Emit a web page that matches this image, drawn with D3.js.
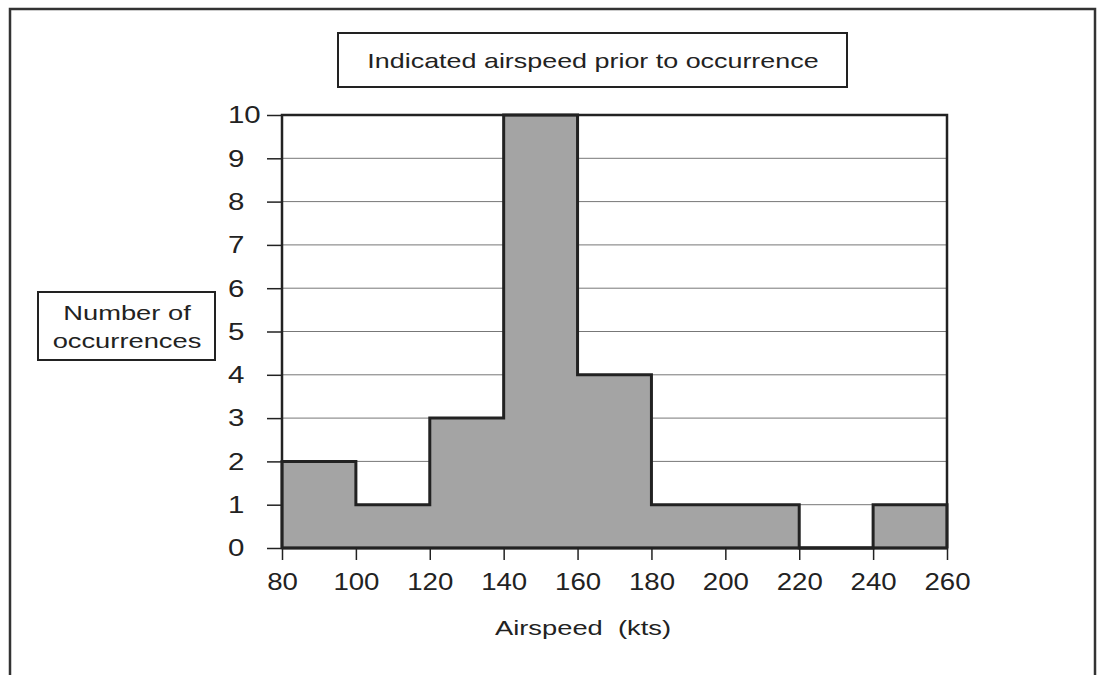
<!DOCTYPE html>
<html><head><meta charset="utf-8">
<script src="https://cdn.jsdelivr.net/npm/d3@7"></script>
<style>
html,body{margin:0;padding:0;background:#fff;}
svg text{font-family:"Liberation Sans",Arial,Helvetica,sans-serif;fill:#222;}
</style></head>
<body><svg id="c" width="1101" height="675"></svg>
<script>
const binStarts = [80,100,120,140,160,180,200,220,240];
const binWidth = 20;
const counts = [2,1,3,10,4,1,1,0,1];
const xTicks = [80,100,120,140,160,180,200,220,240,260];
const yTicks = [0,1,2,3,4,5,6,7,8,9,10];
const title = "Indicated airspeed prior to occurrence";
const yTitle = ["Number of","occurrences"];
const xTitle = "Airspeed  (kts)";

const svg = d3.select("#c");
const L=282, R=947, T=115, B=548;
const x = d3.scaleLinear().domain([80,260]).range([L,R]);
const y = d3.scaleLinear().domain([0,10]).range([B,T]);

function stretch(sel, f){
  sel.each(function(){
    const len = this.getComputedTextLength();
    d3.select(this).attr("textLength", len*f).attr("lengthAdjust","spacingAndGlyphs");
  });
}

// outer frame
svg.append("rect").attr("x",10).attr("y",9).attr("width",1085).attr("height",700)
  .attr("fill","none").attr("stroke","#333").attr("stroke-width",2.5);

// gridlines
svg.append("g").selectAll("line").data(yTicks.filter(d=>d>0&&d<10)).join("line")
  .attr("x1",L).attr("x2",R).attr("y1",d=>y(d)).attr("y2",d=>y(d))
  .attr("stroke","#777").attr("stroke-width",1);

// area fill + step outline
const pts=[];
pts.push([x(binStarts[0]),y(0)]);
binStarts.forEach((s,i)=>{pts.push([x(s),y(counts[i])]);pts.push([x(s+binWidth),y(counts[i])]);});
pts.push([x(binStarts[binStarts.length-1]+binWidth),y(0)]);
svg.append("path").attr("d",d3.line()(pts)+"Z").attr("fill","#a4a4a4").attr("stroke","none");
svg.append("path").attr("d",d3.line()(pts)).attr("fill","none").attr("stroke","#222")
  .attr("stroke-width",3).attr("stroke-linejoin","miter");

// plot border
svg.append("rect").attr("x",L).attr("y",T).attr("width",R-L).attr("height",B-T)
  .attr("fill","none").attr("stroke","#222").attr("stroke-width",2.5);
svg.append("line").attr("x1",L).attr("x2",R).attr("y1",B).attr("y2",B).attr("stroke","#222").attr("stroke-width",3);

// y axis
const ya = svg.append("g").attr("transform",`translate(${L},0)`)
  .call(d3.axisLeft(y).tickValues(yTicks).tickSize(15).tickPadding(10).tickFormat(d3.format("d")));
ya.select(".domain").remove();
ya.selectAll(".tick line").attr("stroke","#222").attr("stroke-width",1.5);
ya.selectAll(".tick text").attr("font-size",23).attr("fill","#222")
  .attr("text-anchor","start").attr("x",228-L).attr("dy","0.34em");
stretch(ya.selectAll(".tick text"),1.28);

// x axis
const xa = svg.append("g").attr("transform",`translate(0,${B})`)
  .call(d3.axisBottom(x).tickValues(xTicks).tickSize(12).tickPadding(18).tickFormat(d3.format("d")));
xa.select(".domain").remove();
xa.selectAll(".tick line").attr("stroke","#222").attr("stroke-width",1.5);
xa.selectAll(".tick text").attr("font-size",23).attr("fill","#222").attr("dy","0.5em");
stretch(xa.selectAll(".tick text"),1.2);

// title box
svg.append("rect").attr("x",338).attr("y",33).attr("width",509).attr("height",54)
  .attr("fill","#fff").attr("stroke","#222").attr("stroke-width",2);
stretch(svg.append("text").attr("x",593).attr("y",68).attr("text-anchor","middle").attr("font-size",21).text(title),1.28);

// y title box
svg.append("rect").attr("x",38).attr("y",292).attr("width",177).attr("height",68)
  .attr("fill","#fff").attr("stroke","#222").attr("stroke-width",2);
stretch(svg.append("text").attr("x",127).attr("y",320).attr("text-anchor","middle").attr("font-size",21).text(yTitle[0]),1.3);
stretch(svg.append("text").attr("x",127).attr("y",348).attr("text-anchor","middle").attr("font-size",21).text(yTitle[1]),1.3);

// x title
stretch(svg.append("text").attr("x",583).attr("y",635).attr("text-anchor","middle").attr("font-size",21)
  .attr("xml:space","preserve").style("white-space","pre").text(xTitle),1.3);
</script></body></html>
